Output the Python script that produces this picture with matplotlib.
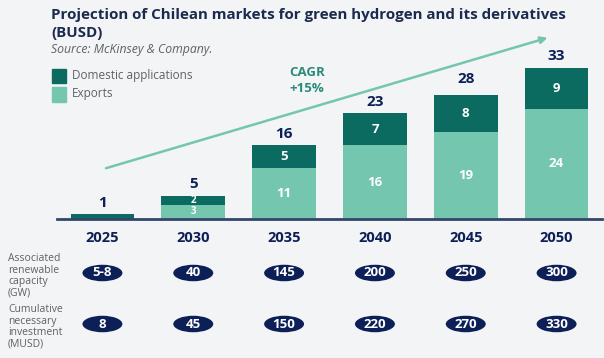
import matplotlib.pyplot as plt
import matplotlib.patches as patches

plt.rcParams['font.family'] = ['Open Sans', 'DejaVu Sans']

# Data
years = ['2025', '2030', '2035', '2040', '2045', '2050']
domestic = [1, 2, 5, 7, 8, 9]
exports = [0, 3, 11, 16, 19, 24]
totals = [1, 5, 16, 23, 28, 33]
capacity = ['5-8', '40', '145', '200', '250', '300']
investment = ['8', '45', '150', '220', '270', '330']

dark = '#0b6b60'
light = '#74c6ae'
navy = '#0d1f57'
bg = '#f3f4f6'
grey = '#5f6166'

fig = plt.figure(figsize=(6.04, 3.58), dpi=100)
fig.patch.set_facecolor(bg)

W, H = 604, 358
base_px = 218.7
top_px = 30
ax = fig.add_axes([57 / W, (H - base_px) / H, (602 - 57) / W, (base_px - top_px) / H])
ax.set_facecolor('none')
ppu = 4.58
ax.set_xlim(-0.5, 5.5)
ax.set_ylim(0, (base_px - top_px) / ppu)
for s in ['top', 'right', 'left']:
    ax.spines[s].set_visible(False)
ax.spines['bottom'].set_color('#34456b')
ax.spines['bottom'].set_linewidth(2)
ax.set_xticks([])
ax.set_yticks([])

x = list(range(len(years)))
ax.bar(x, exports, width=0.7, color=light, zorder=2)
ax.bar(x, domestic, width=0.7, bottom=exports, color=dark, zorder=2)

for i in x:
    ax.text(i, totals[i] + 1.0, str(totals[i]), ha='center', va='bottom',
            fontsize=11, fontweight='bold', color=navy)
    if i == 0:
        continue
    fs = 7 if i == 1 else 9.5
    ax.text(i, exports[i] / 2, str(exports[i]), ha='center', va='center',
            fontsize=fs, fontweight='bold', color='white', zorder=3)
    ax.text(i, exports[i] + domestic[i] / 2, str(domestic[i]), ha='center', va='center',
            fontsize=fs, fontweight='bold', color='white', zorder=3)


# years and ellipse rows
def py(px):
    return (base_px - px) / ppu

for i in x:
    ax.text(i, py(238), years[i], ha='center', va='center', fontsize=10.5,
            fontweight='bold', color=navy, clip_on=False)
    for row_px, labels in [(273, capacity), (324, investment)]:
        e = patches.Ellipse((i, py(row_px)), 0.44, 16.5 / ppu, facecolor=navy,
                            edgecolor='none', clip_on=False)
        ax.add_patch(e)
        ax.text(i, py(row_px), labels[i], ha='center', va='center', fontsize=9.5,
                fontweight='bold', color='white', clip_on=False)

# growth arrow
ax.annotate('', xy=(4.93, py(37)), xytext=(0.01, py(169)),
            arrowprops=dict(arrowstyle='-|>', color=light, lw=1.8,
                            mutation_scale=10), annotation_clip=False)
ax.text(2.25, py(80), 'CAGR\n+15%', ha='center', va='center', fontsize=9.5,
        fontweight='bold', color='#2a8a78', linespacing=1.3)

# titles
fig.text(51 / W, 1 - 15 / H, 'Projection of Chilean markets for green hydrogen and its derivatives',
         fontsize=10.9, fontweight='bold', color='#1b2a4e', va='center')
fig.text(51 / W, 1 - 33 / H, '(BUSD)', fontsize=10.9, fontweight='bold',
         color='#1b2a4e', va='center')
fig.text(51 / W, 1 - 49 / H, 'Source: McKinsey & Company.', fontsize=8.8,
         style='italic', color=grey, va='center')

# legend
fig.patches.append(patches.Rectangle((52 / W, 1 - 83 / H), 14 / W, 14 / H,
                                     transform=fig.transFigure, color=dark))
fig.patches.append(patches.Rectangle((52 / W, 1 - 102 / H), 14 / W, 15 / H,
                                     transform=fig.transFigure, color=light))
fig.text(72 / W, 1 - 76 / H, 'Domestic applications', fontsize=8.5,
         color=grey, va='center')
fig.text(72 / W, 1 - 94 / H, 'Exports', fontsize=8.5, color=grey, va='center')

# row labels
fig.text(8 / W, 1 - 276 / H, 'Associated\nrenewable\ncapacity\n(GW)', fontsize=7.5,
         color=grey, va='center', linespacing=1.05)
fig.text(8 / W, 1 - 327 / H, 'Cumulative\nnecessary\ninvestment\n(MUSD)', fontsize=7.5,
         color=grey, va='center', linespacing=1.05)

fig.savefig('out.png', dpi=100, facecolor=bg)
